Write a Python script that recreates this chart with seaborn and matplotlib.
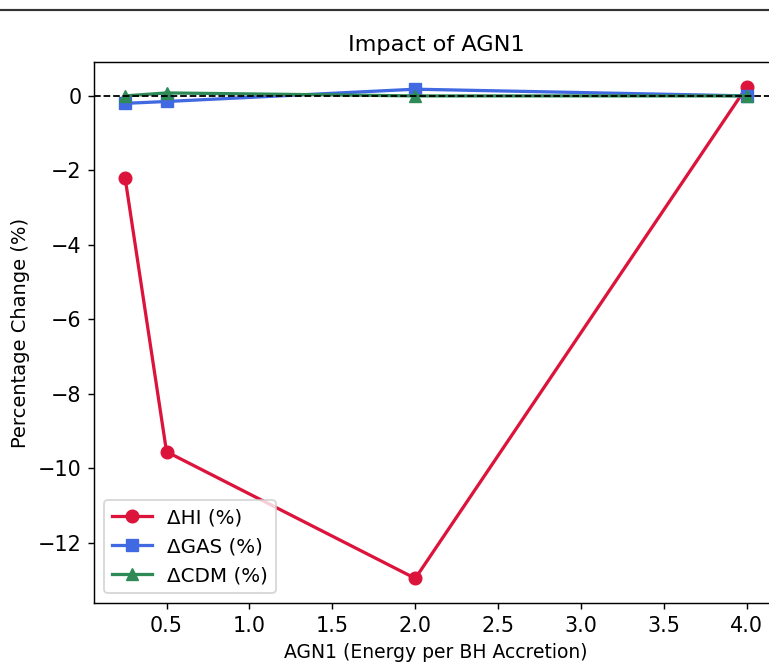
import matplotlib
matplotlib.use('Agg')
import matplotlib.pyplot as plt
from matplotlib.lines import Line2D
import seaborn as sns
import pandas as pd

agn1 = [0.25, 0.5, 2.0, 4.0]
delta_hi = [-2.2, -9.55, -12.95, 0.25]
delta_gas = [-0.2, -0.15, 0.18, 0.0]
delta_cdm = [0.0, 0.08, 0.0, 0.0]

df = pd.DataFrame({'AGN1': agn1, 'HI': delta_hi, 'GAS': delta_gas, 'CDM': delta_cdm})

dpi = 130
fig = plt.figure(figsize=(769 / dpi, 663 / dpi), dpi=dpi)
ax = fig.add_axes([94 / 769, 60 / 663, 684 / 769, 541 / 663])

kw = dict(linewidth=1.8, markersize=7, ax=ax)
sns.lineplot(data=df, x='AGN1', y='HI', marker='o', color='crimson',
             markeredgecolor='crimson', label='ΔHI (%)', **kw)
sns.lineplot(data=df, x='AGN1', y='GAS', marker='s', color='royalblue',
             markeredgecolor='royalblue', label='ΔGAS (%)', **kw)
sns.lineplot(data=df, x='AGN1', y='CDM', marker='^', color='seagreen',
             markeredgecolor='seagreen', label='ΔCDM (%)', **kw)
ax.axhline(0, color='black', linestyle='--', linewidth=1)

ax.set_title('Impact of AGN1', fontsize=12.4)
ax.set_xlabel('AGN1 (Energy per BH Accretion)', fontsize=10.4)
ax.set_ylabel('Percentage Change (%)', fontsize=10.8)
ax.tick_params(labelsize=11.5)
ax.legend(loc='lower left', fontsize=11)

# stray rule at the top of the crop
fig.add_artist(Line2D([0, 1], [1 - 10 / 663, 1 - 10 / 663], color='#333333', linewidth=1.2))

fig.savefig('out.png', dpi=dpi)
